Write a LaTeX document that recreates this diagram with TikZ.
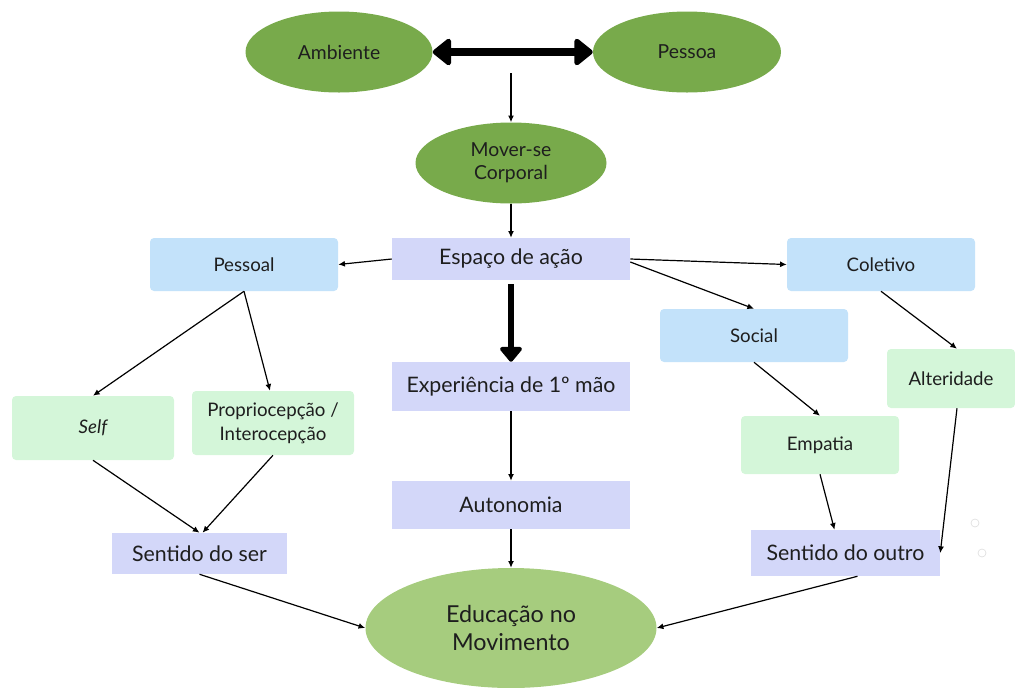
\documentclass[tikz,border=0pt]{standalone}
\usepackage{fontspec}
\setmainfont{Lato}
\usetikzlibrary{arrows.meta,shapes.geometric,calc}
\definecolor{leafgreen}{HTML}{78AA4B}
\definecolor{palegreen}{HTML}{A6CC7E}
\definecolor{lavender}{HTML}{D3D7F9}
\definecolor{skyblue}{HTML}{C3E2FA}
\definecolor{mint}{HTML}{D4F6D9}
\definecolor{ink}{HTML}{1E1E1E}
\tikzset{
  oval/.style={ellipse, fill=leafgreen, text=ink, align=center, inner sep=0pt, font=\fontsize{14.5}{17}\selectfont},
  lavbox/.style={rectangle, fill=lavender, text=ink, align=center, inner sep=0pt, font=\fontsize{16}{19}\selectfont},
  bluebox/.style={rectangle, rounded corners=3pt, fill=skyblue, text=ink, align=center, inner sep=0pt, font=\fontsize{14}{18}\selectfont},
  mintbox/.style={rectangle, rounded corners=3pt, fill=mint, text=ink, align=center, inner sep=0pt, font=\fontsize{14}{18}\selectfont},
  link/.style={draw=black, line width=0.9pt, -{Latex[length=5pt,width=4.5pt]}},
  heavy/.style={draw=black, line width=5pt, -{Triangle[length=12pt,width=19pt,round]}},
  heavyboth/.style={draw=black, line width=6pt, {Triangle[length=15pt,width=23pt,round]}-{Triangle[length=15pt,width=23pt,round]}},
  mark dot/.style={circle, draw=gray!25, line width=0.5pt, minimum size=6pt, inner sep=0pt}
}
\begin{document}
\begin{tikzpicture}[x=0.75pt,y=-0.75pt]
\useasboundingbox (0,0) rectangle (1015,687);

% top row
\node[oval, minimum width=140.25pt, minimum height=60.75pt] (amb) at (339,52) {Ambiente};
\node[oval, minimum width=141pt, minimum height=60.75pt] (pes) at (687,52) {Pessoa};
\node[oval, minimum width=143.25pt, minimum height=60.75pt] (mov) at (511,163) {Mover-se\\Corporal};
\coordinate (mid) at (511,73);

% central column
\node[lavbox, minimum width=178.5pt, minimum height=31.5pt] (esp) at (511,259) {Espaço de ação};
\node[lavbox, minimum width=178.5pt, minimum height=36.75pt] (exp) at (511,386.5) {Experiência de 1º mão};
\node[lavbox, minimum width=178.5pt, minimum height=36pt] (aut) at (511,505) {Autonomia};
\node[ellipse, fill=palegreen, text=ink, align=center, inner sep=0pt,
      font=\fontsize{17.5}{21}\selectfont, minimum width=218.25pt, minimum height=90pt] (edu) at (511,628) {Educação no\\Movimento};

% left branch
\node[bluebox, minimum width=141pt, minimum height=39.75pt] (pso) at (244,264.5) {Pessoal};
\node[mintbox, minimum width=121.5pt, minimum height=48pt] (self) at (93,428) {\itshape Self};
\node[mintbox, minimum width=121.5pt, minimum height=48pt] (prop) at (273,423) {Propriocepção /\\Interocepção};
\node[lavbox, minimum width=131.25pt, minimum height=30.75pt] (ser) at (199.5,553.5) {Sentido do ser};

% right branch
\node[bluebox, minimum width=141pt, minimum height=39.75pt] (col) at (881,264.5) {Coletivo};
\node[bluebox, minimum width=141pt, minimum height=39.75pt] (soc) at (754,335.5) {Social};
\node[mintbox, minimum width=96pt, minimum height=44.25pt] (alt) at (951,378.5) {Alteridade};
\node[mintbox, minimum width=118.5pt, minimum height=43.5pt] (emp) at (820,445) {Empatia};
\node[lavbox, minimum width=141.75pt, minimum height=34.5pt] (out) at (845.5,553) {Sentido do outro};

% faint markers at the right margin
\node[mark dot] (m1) at (975,523) {};
\node[mark dot] (m2) at (982,553) {};

% connectors
\draw[heavyboth] (amb.east) -- (pes.west);
\draw[link] (mid) -- (mov.north);
\draw[link] (mov.south) -- (esp.north);
\draw[link] (esp.west) -- (pso.east);
\draw[link] (esp.east) -- (col.west);
\draw[link] ($(esp.east)+(0,3)$) -- (soc.north);
\draw[heavy, shorten <=3pt] (esp.south) -- (exp.north);
\draw[link] (exp.south) -- (aut.north);
\draw[link] (aut.south) -- (edu.north);

\draw[link] (pso.south) -- (self.north);
\draw[link] (pso.south) -- ($(prop.north)+(-3,0)$);
\draw[link] (self.south) -- (ser.north);
\draw[link] (prop.south) -- ($(ser.north)+(3,0)$);
\draw[link] (ser.south) -- (edu.west);

\draw[link] (col.south) -- ($(alt.north)+(6,0)$);
\draw[link] ($(alt.south)+(6,0)$) -- (out.east);
\draw[link] (soc.south) -- (emp.north);
\draw[link] (emp.south) -- ($(out.north)+(-11,0)$);
\draw[link] ($(out.south)+(12,0)$) -- (edu.east);
\end{tikzpicture}
\end{document}
